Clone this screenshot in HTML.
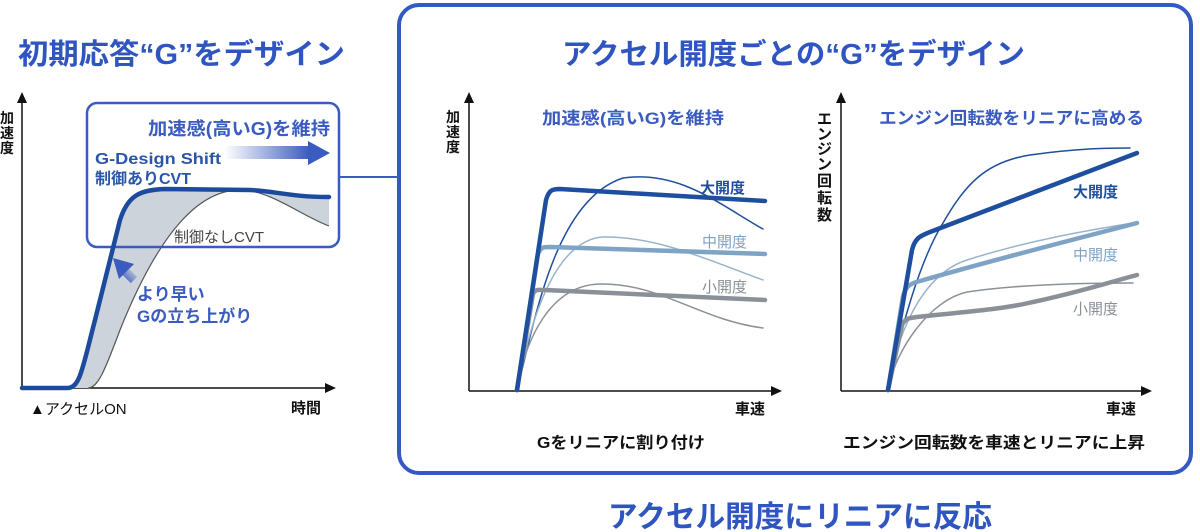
<!DOCTYPE html>
<html><head><meta charset="utf-8"><style>
html,body{margin:0;padding:0;background:#fff;}
svg{display:block;font-family:"Liberation Sans","Noto Sans CJK JP",sans-serif;}
</style></head><body>
<svg width="1200" height="532" viewBox="0 0 1200 532" xmlns="http://www.w3.org/2000/svg">
<defs>
<linearGradient id="ga" x1="0" x2="1" y1="0" y2="0">
<stop offset="0" stop-color="#3a5bbf" stop-opacity="0"/>
<stop offset="1" stop-color="#3a5bbf"/>
</linearGradient>
<linearGradient id="gb" x1="1" y1="0" x2="0" y2="1">
<stop offset="0" stop-color="#3a5bbf" stop-opacity="0"/>
<stop offset="1" stop-color="#3a5bbf"/>
</linearGradient>
</defs>
<!-- titles -->
<text x="18" y="64" font-size="29" font-weight="bold" fill="#2f55c0" textLength="327" lengthAdjust="spacingAndGlyphs">初期応答“G”をデザイン</text>
<rect x="399" y="5" width="792" height="468" rx="20" fill="none" stroke="#3559c4" stroke-width="4"/>
<line x1="339" y1="177" x2="399" y2="177" stroke="#3a5bbf" stroke-width="2"/>
<text x="562" y="64" font-size="29" font-weight="bold" fill="#2f55c0" textLength="463" lengthAdjust="spacingAndGlyphs">アクセル開度ごとの“G”をデザイン</text>
<text x="608" y="527" font-size="30" font-weight="bold" fill="#2f55c0" textLength="384" lengthAdjust="spacingAndGlyphs">アクセル開度にリニアに反応</text>

<!-- left chart -->
<line x1="22" y1="388" x2="22" y2="100" stroke="#111" stroke-width="1.5"/>
<polygon points="22,92 17,103 27,103" fill="#111"/>
<line x1="22" y1="388" x2="326" y2="388" stroke="#111" stroke-width="1.5"/>
<polygon points="336,388 325,383 325,393" fill="#111"/>
<text font-size="14" font-weight="bold" fill="#111"><tspan x="0" y="123">加</tspan><tspan x="0" y="138">速</tspan><tspan x="0" y="153">度</tspan></text>
<text x="291" y="413" font-size="15" font-weight="bold" fill="#111">時間</text>
<text x="30" y="414" font-size="15" fill="#111">▲アクセルON</text>
<path d="M67,388 C80,388 82,370 95,320 L120,220 C128,195 140,190 165,189 L250,190 C275,191 290,197 329,197 L329,226 C300,215 270,190 240,190 C200,190 160,230 120,330 C105,370 98,388 88,388 Z" fill="#ccd3da"/>
<path d="M88,388 C98,388 105,370 120,330 C160,230 200,190 240,190 C270,190 300,215 329,226" fill="none" stroke="#555" stroke-width="1.2"/>
<rect x="87" y="103" width="252" height="144" rx="10" fill="none" stroke="#3a5bbf" stroke-width="2.5"/>
<path d="M22,388 L67,388 C80,388 82,370 95,320 L120,220 C128,195 140,190 165,189 L250,190 C275,191 290,197 329,197" fill="none" stroke="#1c4a9c" stroke-width="4.5" stroke-linecap="round"/>
<text x="148" y="135" font-size="18" font-weight="bold" fill="#3a5bbf" textLength="182" lengthAdjust="spacingAndGlyphs">加速感(高いG)を維持</text>
<text x="95" y="164" font-size="16" font-weight="bold" fill="#2a55a8" textLength="126" lengthAdjust="spacingAndGlyphs">G-Design Shift</text>
<text x="95" y="184" font-size="16" font-weight="bold" fill="#2a55a8">制御ありCVT</text>
<rect x="225" y="146" width="85" height="13" fill="url(#ga)"/>
<polygon points="308,141 330,153 308,165" fill="#3a5bbf"/>
<text x="174" y="242" font-size="15" fill="#444">制御なしCVT</text>
<line x1="134" y1="280" x2="122" y2="268" stroke="url(#gb)" stroke-width="9"/>
<polygon points="113,258 134,264 119,279" fill="#3a5bbf"/>
<text x="137" y="300" font-size="17" font-weight="bold" fill="#3a5bbf">より早い</text>
<text x="137" y="322" font-size="17" font-weight="bold" fill="#3a5bbf">Gの立ち上がり</text>

<!-- middle chart -->
<line x1="469" y1="391" x2="469" y2="100" stroke="#111" stroke-width="1.5"/>
<polygon points="469,92 464,103 474,103" fill="#111"/>
<line x1="469" y1="391" x2="772" y2="391" stroke="#111" stroke-width="1.5"/>
<polygon points="782,391 771,386 771,396" fill="#111"/>
<text font-size="14" font-weight="bold" fill="#111"><tspan x="446" y="122">加</tspan><tspan x="446" y="137">速</tspan><tspan x="446" y="152">度</tspan></text>
<text x="735" y="414" font-size="15" font-weight="bold" fill="#111">車速</text>
<text x="542" y="124" font-size="17" font-weight="bold" fill="#3a5bbf" textLength="182" lengthAdjust="spacingAndGlyphs">加速感(高いG)を維持</text>
<text x="537" y="448" font-size="16" font-weight="bold" fill="#111" textLength="168" lengthAdjust="spacingAndGlyphs">Gをリニアに割り付け</text>
<g fill="none" stroke-linecap="round">
<path d="M517,390 C535,320 555,200 623,178 C680,170 720,205 763,229" stroke="#1f4f9e" stroke-width="1.5"/>
<path d="M517,390 C530,320 555,240 603,237 C660,236 720,265 763,280" stroke="#98b4cc" stroke-width="1.5"/>
<path d="M517,390 C525,340 550,285 600,284 C660,283 700,320 763,328" stroke="#8b9199" stroke-width="1.5"/>
<path d="M517,390 L533,294 C535,289 538,290 545,290 L765,300" stroke="#8a9098" stroke-width="4.5"/>
<path d="M517,390 L538,254 C541,247 543,247 550,247 L765,254" stroke="#7ea3c4" stroke-width="4.5"/>
<path d="M517,390 L546,200 C549,190 552,189 560,189 L765,201" stroke="#1e4f9e" stroke-width="4.5"/>
</g>
<text x="700" y="193" font-size="15" font-weight="bold" fill="#1e4f9e">大開度</text>
<text x="702" y="247" font-size="15" fill="#7ea3c4">中開度</text>
<text x="702" y="292" font-size="15" fill="#8a9098">小開度</text>

<!-- right chart -->
<line x1="841" y1="391" x2="841" y2="100" stroke="#111" stroke-width="1.5"/>
<polygon points="841,92 836,103 846,103" fill="#111"/>
<line x1="841" y1="391" x2="1142" y2="391" stroke="#111" stroke-width="1.5"/>
<polygon points="1152,391 1141,386 1141,396" fill="#111"/>
<text font-size="15" font-weight="bold" fill="#111"><tspan x="817" y="124">エ</tspan><tspan x="817" y="139">ン</tspan><tspan x="817" y="154">ジ</tspan><tspan x="817" y="169">ン</tspan><tspan x="817" y="186">回</tspan><tspan x="817" y="203">転</tspan><tspan x="817" y="220">数</tspan></text>
<text x="1106" y="414" font-size="15" font-weight="bold" fill="#111">車速</text>
<text x="879" y="124" font-size="17" font-weight="bold" fill="#3a5bbf" textLength="265" lengthAdjust="spacingAndGlyphs">エンジン回転数をリニアに高める</text>
<text x="843" y="448" font-size="16" font-weight="bold" fill="#111" textLength="302" lengthAdjust="spacingAndGlyphs">エンジン回転数を車速とリニアに上昇</text>
<g fill="none" stroke-linecap="round">
<path d="M888,390 C900,330 920,260 943,223 C965,185 985,162 1030,155 C1080,148 1110,148 1130,148" stroke="#1f4f9e" stroke-width="1.5"/>
<path d="M888,390 C895,340 920,275 967,260 C1030,240 1090,230 1133,223" stroke="#98b4cc" stroke-width="1.5"/>
<path d="M888,390 C895,350 930,300 967,292 C1020,284 1090,283 1133,283" stroke="#8b9199" stroke-width="1.5"/>
<path d="M888,390 L902,325 C905,318 910,318 917,317 C960,312 1000,310 1033,302 C1080,292 1110,282 1137,275" stroke="#8a9098" stroke-width="4.5"/>
<path d="M888,390 L903,296 C906,285 912,283 920,281 C1000,258 1080,238 1137,223" stroke="#7ea3c4" stroke-width="4.5"/>
<path d="M888,390 L912,250 C915,238 920,236 930,232 L1137,153" stroke="#1e4f9e" stroke-width="4.5"/>
</g>
<text x="1073" y="197" font-size="15" font-weight="bold" fill="#1e4f9e">大開度</text>
<text x="1073" y="260" font-size="15" fill="#7ea3c4">中開度</text>
<text x="1073" y="314" font-size="15" fill="#8a9098">小開度</text>
</svg>
</body></html>
